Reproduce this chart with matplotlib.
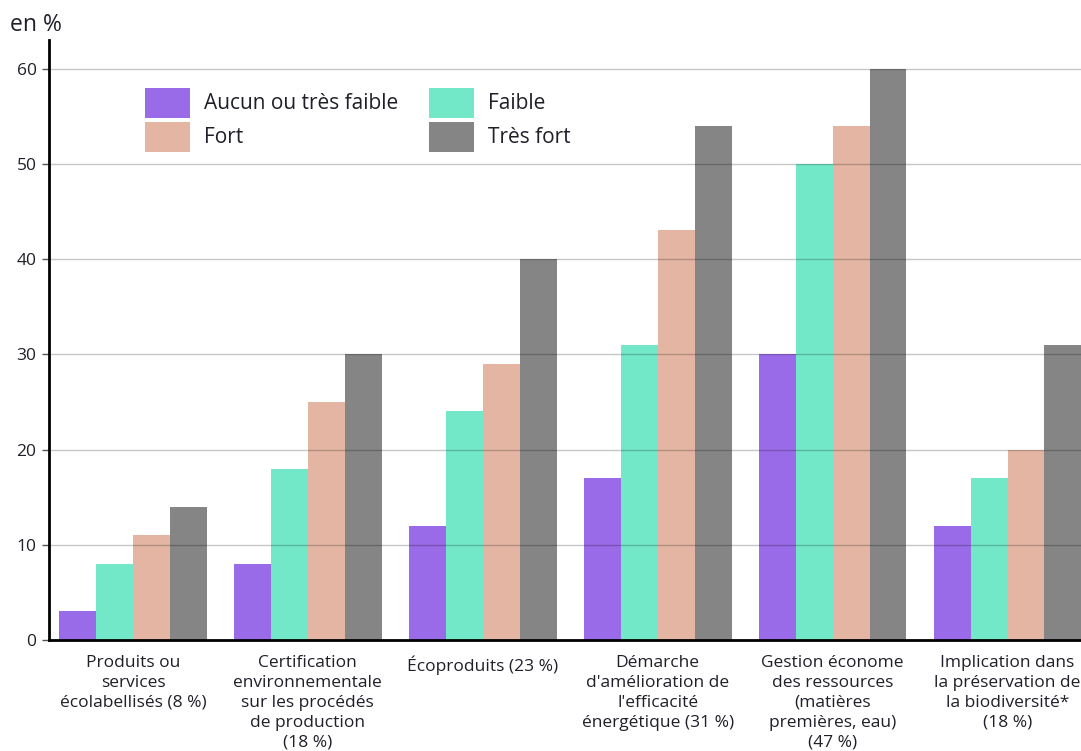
import matplotlib
matplotlib.use("Agg")
import matplotlib.pyplot as plt
import numpy as np

plt.rcParams['font.family'] = ['Open Sans', 'DejaVu Sans']

categories = [
    "Produits ou\nservices\nécolabellisés (8 %)",
    "Certification\nenvironnementale\nsur les procédés\nde production\n(18 %)",
    "Écoproduits (23 %)",
    "Démarche\nd'amélioration de\nl'efficacité\nénergétique (31 %)",
    "Gestion économe\ndes ressources\n(matières\npremières, eau)\n(47 %)",
    "Implication dans\nla préservation de\nla biodiversité*\n(18 %)",
]
series_names = ["Aucun ou très faible", "Faible", "Fort", "Très fort"]
aucun = [3, 8, 12, 17, 30, 12]
faible = [8, 18, 24, 31, 50, 17]
fort = [11, 25, 29, 43, 54, 20]
tres_fort = [14, 30, 40, 54, 60, 31]
y_ticks = [0, 10, 20, 30, 40, 50, 60]

colors = ["#9a6be8", "#72e8c8", "#e3b5a2", "#858585"]
text_color = "#1f1f2a"

fig = plt.figure(figsize=(10.81, 7.51), dpi=100)
ax = fig.add_axes([49 / 1081, 1 - 640 / 751, 1 - 49 / 1081, (640 - 40) / 751])

x = np.arange(len(categories))
w = 0.211
handles = []
for i, (vals, c) in enumerate(zip([aucun, faible, fort, tres_fort], colors)):
    b = ax.bar(x + (i - 1.5) * w, vals, width=w, color=c, edgecolor="none",
               label=series_names[i], zorder=1)
    handles.append(b)

ax.set_xlim(-0.48, 5.42)
ax.set_ylim(0, 63)
ax.set_yticks(y_ticks)
ax.set_yticklabels([str(v) for v in y_ticks], fontsize=12.5, color=text_color)
ax.set_xticks(x)
ax.set_xticklabels(categories, fontsize=12.5, color=text_color, linespacing=1.32,
                   va="top")
ax.tick_params(axis="x", length=0, pad=11)
ax.tick_params(axis="y", length=5, width=1, color="#555555", pad=4)

for yv in y_ticks[1:]:
    ax.axhline(yv, color=(0, 0, 0, 0.22), linewidth=1, zorder=3)

for s in ["top", "right"]:
    ax.spines[s].set_visible(False)
for s in ["left", "bottom"]:
    ax.spines[s].set_linewidth(2)
    ax.spines[s].set_color("black")
    ax.spines[s].set_zorder(5)

fig.text(10 / 1081, 1 - 25 / 751, "en %", fontsize=16.5, color=text_color,
         va="center", ha="left")

leg = ax.legend([handles[0], handles[2], handles[1], handles[3]],
                [series_names[0], series_names[2], series_names[1], series_names[3]],
                ncol=2, frameon=False, fontsize=15, handlelength=2.16,
                handleheight=1.84, handletextpad=0.67, columnspacing=1.5,
                labelspacing=0.2, loc="upper left",
                bbox_to_anchor=(130 / 1081, 1 - 73 / 751),
                bbox_transform=fig.transFigure, borderpad=0.2)
for t in leg.get_texts():
    t.set_color(text_color)

fig.savefig("out.png", dpi=100)
